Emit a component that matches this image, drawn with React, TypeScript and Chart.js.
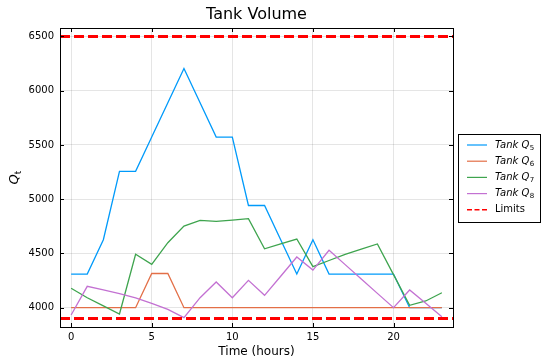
import React, { useEffect, useRef } from "react";
import { Chart, registerables } from "chart.js";

Chart.register(...registerables);

const hours = [0, 1, 2, 3, 4, 5, 6, 7, 8, 9, 10, 11, 12, 13, 14, 15, 16, 17, 18, 19, 20, 21, 22, 23];
const tankQ5 = [4310, 4310, 4626, 5257, 5257, 5573, 5889, 6205, 5889, 5573, 5573, 4942, 4942, 4626, 4310, 4626, 4310, 4310, 4310, 4310, 4310, 4000, 4000, 4000];
const tankQ6 = [4000, 4000, 4000, 4000, 4000, 4315, 4315, 4000, 4000, 4000, 4000, 4000, 4000, 4000, 4000, 4000, 4000, 4000, 4000, 4000, 4000, 4000, 4000, 4000];
const tankQ7 = [4179, 4092, 4017, 3942, 4492, 4400, 4599, 4752, 4805, 4796, 4808, 4820, 4543, 4588, 4633, 4378, 4435, 4492, 4540, 4587, 4305, 4022, 4062, 4138];
const tankQ8 = [3933, 4197, 4165, 4129, 4090, 4040, 3985, 3908, 4092, 4237, 4092, 4252, 4114, 4290, 4467, 4347, 4529, 4397, 4265, 4132, 4000, 4163, 4040, 3917];
const limits = [3900, 6500];

const xTicks = [0, 5, 10, 15, 20];
const yTicks = [4000, 4500, 5000, 5500, 6000, 6500];
const xRange = [-0.69, 23.69];
const yRange = [3822, 6578];

const seriesNames = ["5", "6", "7", "8"];
const colors = ["#009AFA", "#E36F47", "#3EA44E", "#C371D2"];
const limitColor = "#FF0000";
const FONT = "DejaVu Sans";

const framePlugin = {
  id: "frame",
  afterDraw(chart: any) {
    const { ctx, chartArea: a, scales } = chart;
    ctx.save();
    ctx.strokeStyle = "#000";
    ctx.lineWidth = 1;
    ctx.strokeRect(Math.round(a.left) + 0.5, Math.round(a.top) + 0.5, Math.round(a.right - a.left), Math.round(a.bottom - a.top));
    const tl = 4;
    ctx.beginPath();
    for (const v of xTicks) {
      const px = Math.round(scales.x.getPixelForValue(v)) + 0.5;
      ctx.moveTo(px, a.bottom);
      ctx.lineTo(px, a.bottom - tl);
      ctx.moveTo(px, a.top);
      ctx.lineTo(px, a.top + tl);
    }
    for (const v of yTicks) {
      const py = Math.round(scales.y.getPixelForValue(v)) + 0.5;
      ctx.moveTo(a.left, py);
      ctx.lineTo(a.left + tl, py);
      ctx.moveTo(a.right, py);
      ctx.lineTo(a.right - tl, py);
    }
    ctx.stroke();

    ctx.fillStyle = "#000";
    ctx.textAlign = "center";
    ctx.textBaseline = "middle";
    const cx = (a.left + a.right) / 2;
    ctx.font = `16px "${FONT}"`;
    ctx.fillText("Tank Volume", cx, 15);
    ctx.font = `12px "${FONT}"`;
    ctx.fillText("Time (hours)", cx, 352);
    ctx.save();
    ctx.translate(15, (a.top + a.bottom) / 2);
    ctx.rotate(-Math.PI / 2);
    ctx.textAlign = "left";
    ctx.font = `italic 13px "${FONT}"`;
    const qw = ctx.measureText("Q").width;
    ctx.font = `9px "${FONT}"`;
    const tw = ctx.measureText("t").width;
    const start = -(qw + tw) / 2;
    ctx.font = `italic 13px "${FONT}"`;
    ctx.fillText("Q", start, 0);
    ctx.font = `9px "${FONT}"`;
    ctx.fillText("t", start + qw, 4);
    ctx.restore();

    const lx = 458, ly = 134, lw = 82, lh = 88;
    ctx.fillStyle = "#fff";
    ctx.fillRect(lx, ly, lw, lh);
    ctx.strokeStyle = "#000";
    ctx.lineWidth = 1;
    ctx.strokeRect(lx + 0.5, ly + 0.5, lw, lh);
    const rowH = 16.2;
    ctx.textAlign = "left";
    ctx.textBaseline = "middle";
    for (let i = 0; i < 5; i++) {
      const y = ly + 11 + i * rowH;
      ctx.beginPath();
      if (i < 4) {
        ctx.strokeStyle = colors[i];
        ctx.lineWidth = 1.2;
        ctx.setLineDash([]);
      } else {
        ctx.strokeStyle = limitColor;
        ctx.lineWidth = 1.5;
        ctx.setLineDash([5, 2.5]);
      }
      ctx.moveTo(467, y);
      ctx.lineTo(487, y);
      ctx.stroke();
      ctx.setLineDash([]);
      ctx.fillStyle = "#000";
      if (i < 4) {
        ctx.font = `italic 10px "${FONT}"`;
        ctx.fillText("Tank Q", 495, y);
        const w = ctx.measureText("Tank Q").width;
        ctx.font = `7px "${FONT}"`;
        ctx.fillText(seriesNames[i], 495 + w + 0.5, y + 3);
      } else {
        ctx.font = `10px "${FONT}"`;
        ctx.fillText("Limits", 495, y);
      }
    }
    ctx.restore();
  },
};

export default function App() {
  const ref = useRef<HTMLCanvasElement>(null);
  useEffect(() => {
    if (!ref.current) return;
    const mk = (arr: number[]) => hours.map((h, i) => ({ x: h, y: arr[i] }));
    const limitData: any[] = [];
    limits.forEach((v, i) => {
      if (i > 0) limitData.push({ x: xRange[1], y: null });
      limitData.push({ x: xRange[0], y: v });
      limitData.push({ x: xRange[1], y: v });
    });
    const series = [tankQ5, tankQ6, tankQ7, tankQ8];
    const datasets: any[] = series.map((s, i) => ({
      label: "Tank Q" + seriesNames[i],
      data: mk(s),
      borderColor: colors[i],
      borderWidth: 1.3,
      pointRadius: 0,
      tension: 0,
      fill: false,
      order: 4 - i,
    }));
    datasets.push({
      label: "Limits",
      data: limitData,
      borderColor: limitColor,
      borderWidth: 3,
      borderDash: [10, 4],
      pointRadius: 0,
      spanGaps: false,
      fill: false,
      order: 0,
    });
    const gridColor = "rgba(0,0,0,0.1)";
    const chart = new Chart(ref.current, {
      type: "line",
      data: { datasets },
      options: {
        responsive: false,
        animation: false,
        layout: { padding: { left: 0, right: 88, top: 28, bottom: 0 } },
        scales: {
          x: {
            type: "linear",
            min: xRange[0],
            max: xRange[1],
            afterBuildTicks: (s: any) => {
              s.ticks = xTicks.map((v) => ({ value: v }));
            },
            afterFit: (s: any) => {
              s.height = 36;
            },
            ticks: { color: "#000", font: { family: FONT, size: 10 }, padding: 4, maxRotation: 0, callback: (v: any) => String(v) },
            grid: { drawTicks: false, color: gridColor, lineWidth: 1 },
            border: { display: false },
          },
          y: {
            type: "linear",
            min: yRange[0],
            max: yRange[1],
            afterBuildTicks: (s: any) => {
              s.ticks = yTicks.map((v) => ({ value: v }));
            },
            afterFit: (s: any) => {
              s.width = 60;
            },
            ticks: { color: "#000", font: { family: FONT, size: 10 }, padding: 6, callback: (v: any) => String(v) },
            grid: { drawTicks: false, color: gridColor, lineWidth: 1 },
            border: { display: false },
          },
        },
        plugins: {
          legend: { display: false },
          title: { display: false },
          tooltip: { enabled: false },
        },
      } as any,
      plugins: [framePlugin],
    });
    return () => chart.destroy();
  }, []);
  return (
    <div style={{ position: "fixed", left: 0, top: 0, width: 541, height: 363, background: "#fff" }}>
      <canvas ref={ref} width={541} height={363} style={{ display: "block", width: 541, height: 363 }} />
    </div>
  );
}
